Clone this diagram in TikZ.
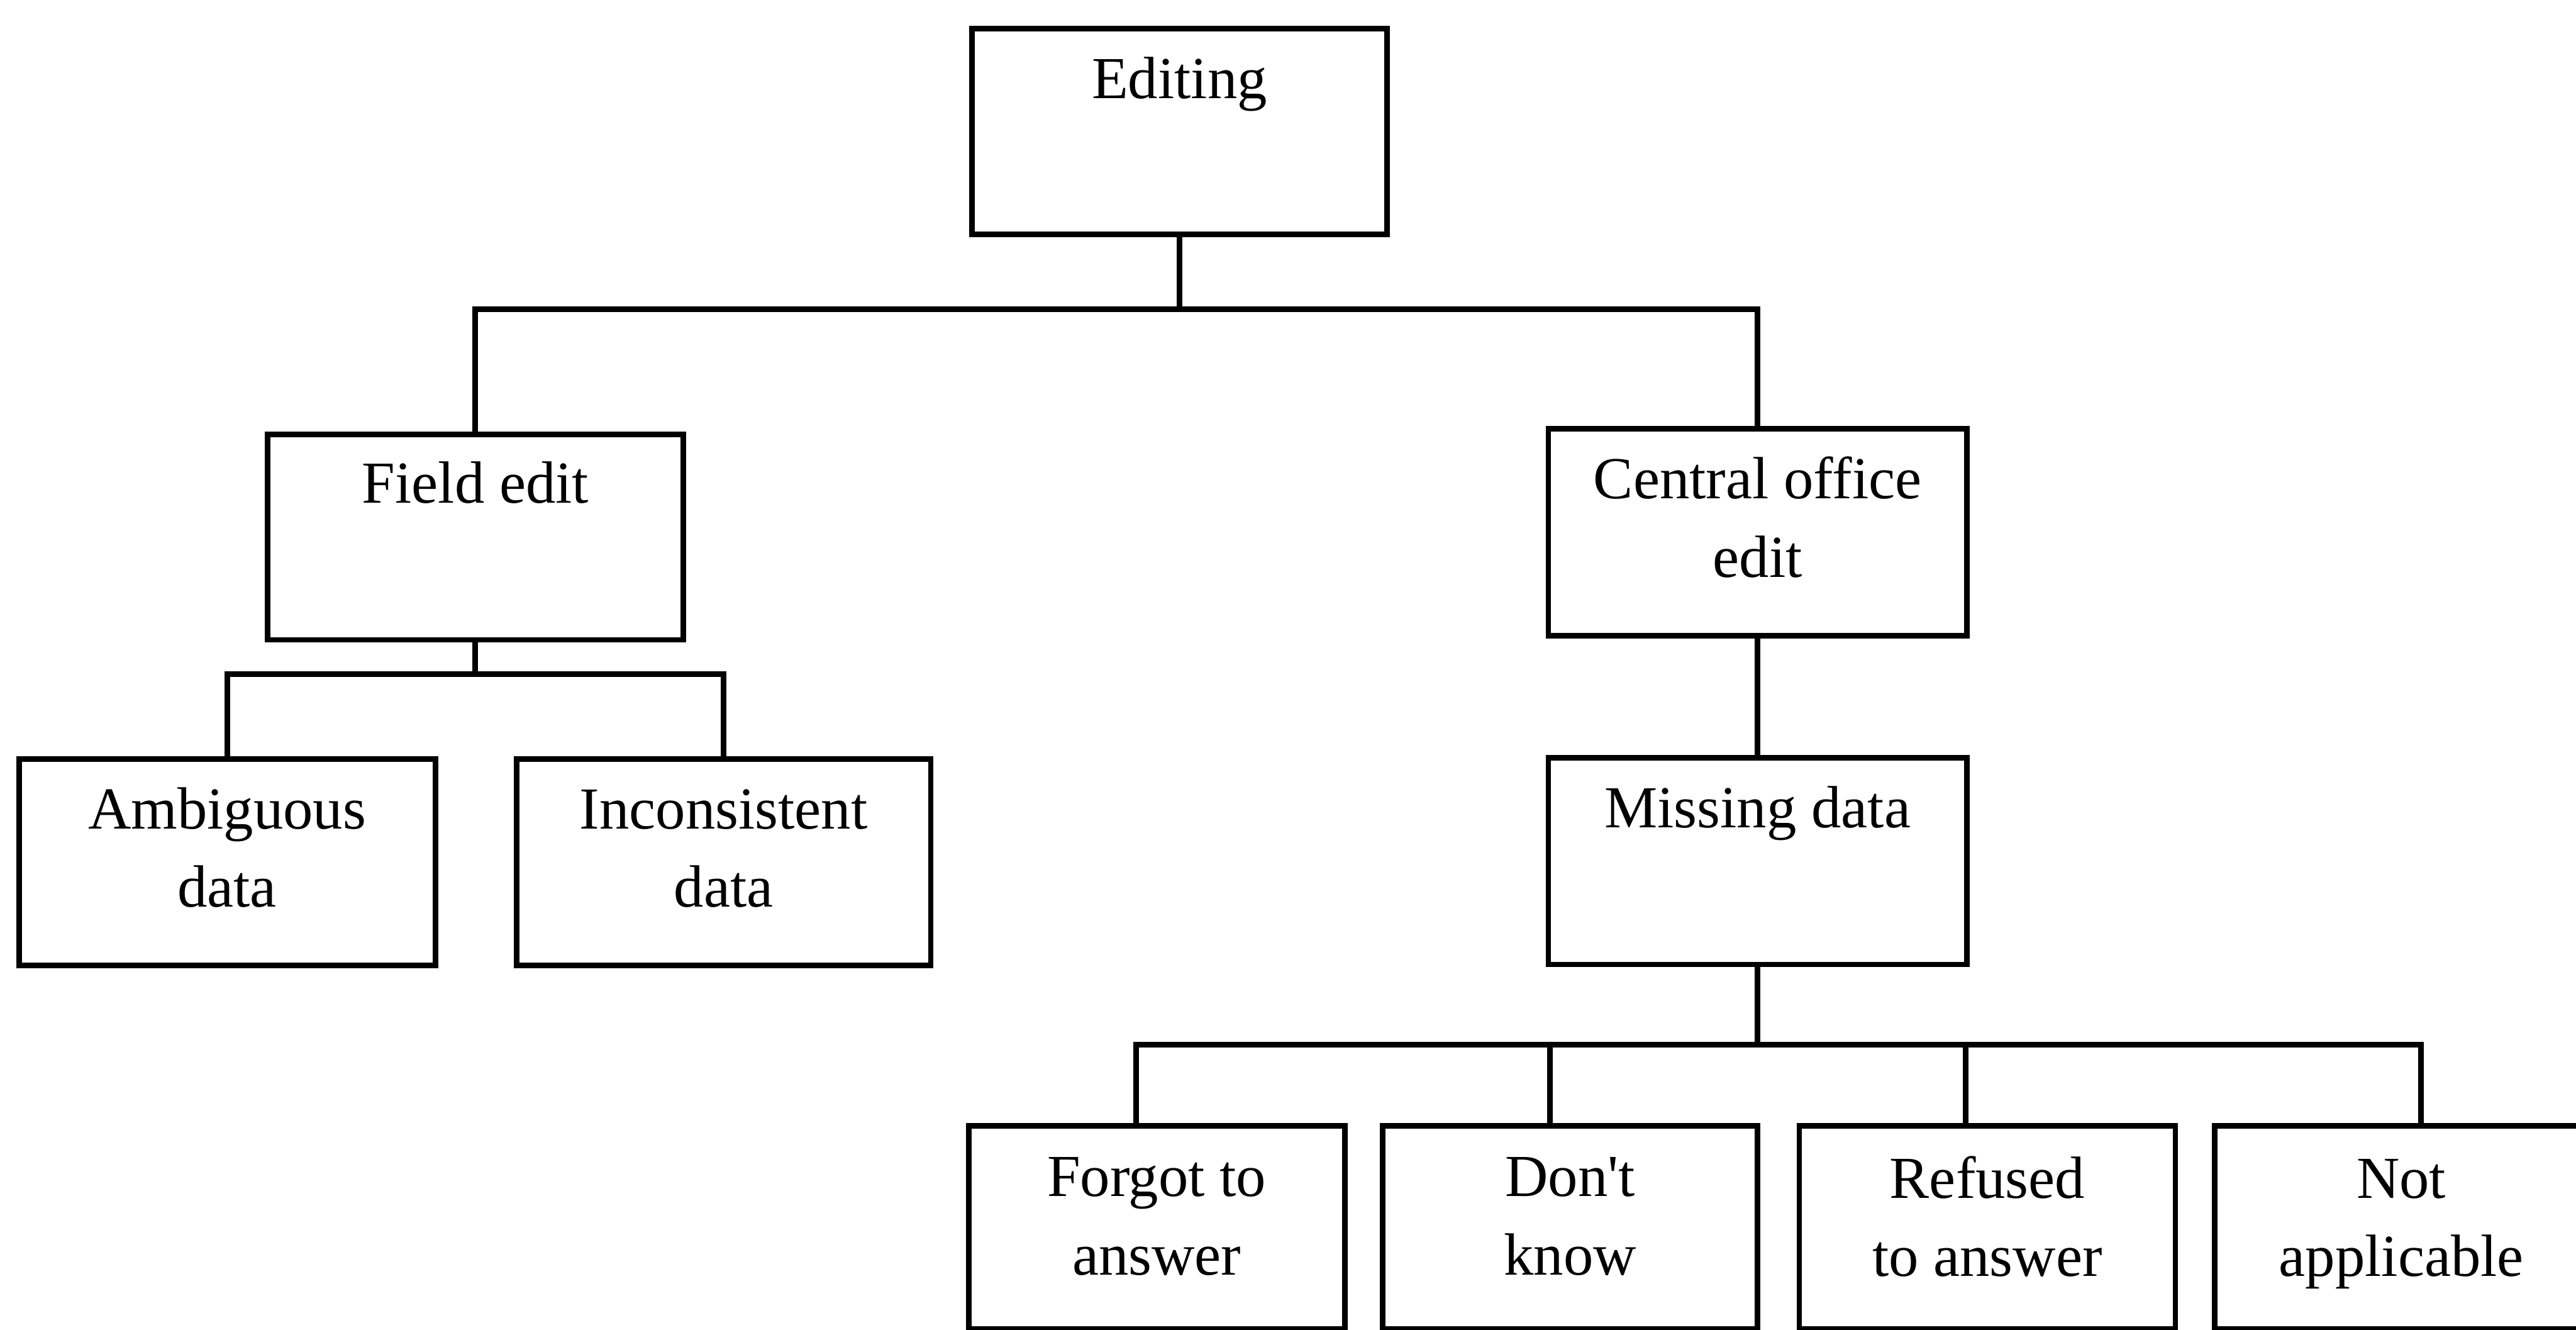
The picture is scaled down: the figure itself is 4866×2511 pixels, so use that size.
\documentclass[tikz,border=0pt]{standalone}
\usepackage{fontspec}
\setmainfont{Liberation Serif}[Ligatures=TeXOff]
\newcommand\twoline[2]{\begin{tabular}[t]{@{}c@{}}#1\\#2\end{tabular}}
\begin{document}
\begin{tikzpicture}[x=0.01cm, y=-0.01cm,
  box/.style={draw, rectangle, line width=3pt, outer sep=0pt, inner sep=0pt},
  lbl/.style={anchor=base, inner sep=0pt, font=\fontsize{32}{42}\selectfont},
  link/.style={line width=3pt, line join=miter}]
  \clip (0,0) rectangle (4866,2511);

  % boxes
  \node[box, minimum width=7.84cm, minimum height=3.88cm] (edit) at (2228,248) {};
  \node[box, minimum width=7.84cm, minimum height=3.88cm] (field) at (898,1014) {};
  \node[box, minimum width=7.90cm, minimum height=3.90cm] (central) at (3320,1005) {};
  \node[box, minimum width=7.86cm, minimum height=3.90cm] (amb) at (429,1628) {};
  \node[box, minimum width=7.82cm, minimum height=3.90cm] (inc) at (1367,1628) {};
  \node[box, minimum width=7.90cm, minimum height=3.90cm] (missing) at (3320,1626) {};
  \node[box, minimum width=7.10cm, minimum height=3.83cm] (forgot) at (2185,2318) {};
  \node[box, minimum width=7.08cm, minimum height=3.83cm] (dontknow) at (2966,2318) {};
  \node[box, minimum width=7.10cm, minimum height=3.83cm] (refused) at (3754,2318) {};
  \node[box, minimum width=7.04cm, minimum height=3.83cm] (notapp) at (4536,2318) {};

  % texts
  \node[lbl] (tedit) at ([yshift=-1.32cm]edit.north) {Editing};
  \node[lbl] (tfield) at ([yshift=-1.30cm]field.north) {Field edit};
  \node[lbl] (tcentral) at ([yshift=-1.32cm]central.north) {\twoline{Central office}{edit}};
  \node[lbl] (tamb) at ([yshift=-1.32cm]amb.north) {\twoline{Ambiguous}{data}};
  \node[lbl] (tinc) at ([yshift=-1.32cm]inc.north) {\twoline{Inconsistent}{data}};
  \node[lbl] (tmissing) at ([yshift=-1.32cm]missing.north) {Missing data};
  \node[lbl] (tforgot) at ([yshift=-1.33cm]forgot.north) {\twoline{Forgot to}{answer}};
  \node[lbl] (tdont) at ([yshift=-1.33cm]dontknow.north) {\twoline{Don't}{know}};
  \node[lbl] (trefused) at ([yshift=-1.36cm]refused.north) {\twoline{Refused}{to answer}};
  \node[lbl] (tnot) at ([yshift=-1.36cm]notapp.north) {\twoline{Not}{applicable}};

  % bar levels and branch points
  \coordinate (topbar) at (0,584);
  \coordinate (fbar) at (0,1273);
  \coordinate (s1) at (2146,1973);
  \coordinate (s2) at (2928,1973);
  \coordinate (s3) at (3713,1973);
  \coordinate (s4) at (4573,1973);

  % Editing -> Field edit / Central office edit
  \draw[link] (edit.south) -- (edit.south |- topbar);
  \draw[link] (field.north) -- (field.north |- topbar) -- (central.north |- topbar) -- (central.north);

  % Field edit -> Ambiguous / Inconsistent
  \draw[link] (field.south) -- (field.south |- fbar);
  \draw[link] (amb.north) -- (amb.north |- fbar) -- (inc.north |- fbar) -- (inc.north);

  % Central office edit -> Missing data
  \draw[link] (central.south) -- (missing.north);

  % Missing data -> four kinds
  \draw[link] (missing.south) -- (missing.south |- s1);
  \draw[link] (forgot.north -| s1) -- (s1) -- (s4) -- (notapp.north -| s4);
  \draw[link] (s2) -- (dontknow.north -| s2);
  \draw[link] (s3) -- (refused.north -| s3);
\end{tikzpicture}
\end{document}
